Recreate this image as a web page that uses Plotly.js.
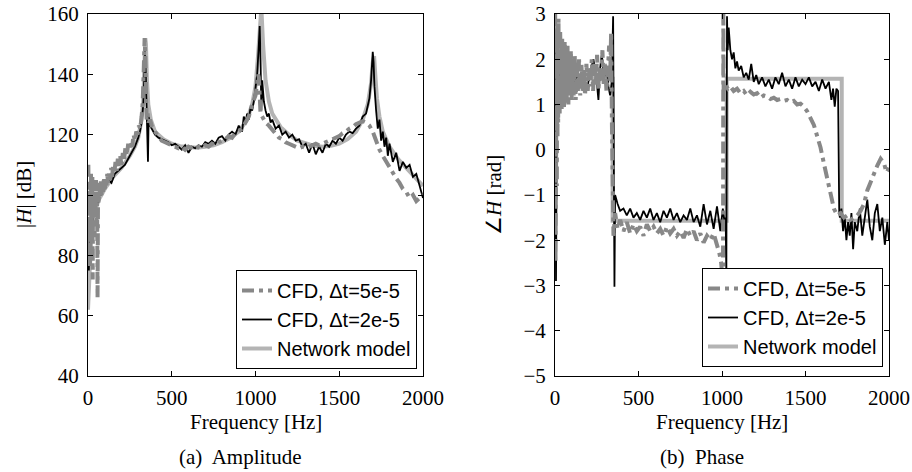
<!DOCTYPE html>
<html>
<head>
<meta charset="utf-8">
<script src="https://cdn.plot.ly/plotly-3.0.1.min.js"></script>
<style>
html,body{margin:0;padding:0;background:#fff;}
#chart{width:912px;height:472px;}
</style>
</head>
<body>
<div id="chart"></div>
<script>
// ---------- Amplitude (|H| in dB) ----------
const ampNetF = [0,10,20,40,60,80,100,150,200,250,280,300,320,330,338,342,346,352,360,375,400,450,500,550,600,650,700,750,800,850,900,950,980,1000,1015,1025,1030,1035,1045,1060,1080,1100,1150,1200,1250,1300,1350,1400,1450,1500,1550,1600,1640,1670,1690,1700,1708,1715,1725,1740,1760,1800,1850,1900,1950,2000];
const ampNetV = [62,80,88,94,98,100,102,106,109,113,116,119,125,131,142,152,150,138,130,125,121,118.5,117,116.2,115.8,115.7,116,116.5,117.5,119,121,125,130,136,146,158,162,162,150,138,131,127,122.5,120,118,117,116.3,116,116.3,117,118.5,121,125,130,137,144,146,140,132,126,121,116,112,109,106,103];

const ampC2F = [5,10,15,20,25,30,40,50,60,70,80,90,100,120,140,160,180,200,220,240,260,280,300,310,320,330,335,340,345,350,355,358,362,366,370,380,390,400,420,440,460,480,500,520,540,560,580,600,620,640,660,680,700,720,740,760,780,800,820,840,860,880,900,920,930,940,950,960,970,980,990,1000,1010,1020,1025,1030,1035,1040,1045,1050,1060,1070,1080,1090,1100,1120,1140,1160,1180,1200,1220,1240,1260,1280,1300,1320,1340,1360,1380,1400,1420,1440,1460,1480,1500,1520,1540,1560,1580,1600,1620,1640,1660,1680,1690,1695,1700,1705,1710,1720,1730,1740,1750,1760,1770,1780,1790,1800,1820,1840,1860,1880,1900,1920,1940,1960,1980,2000];
const ampC2V = [75,88,80,92,85,96,94,98,97,101,100,103,102,105,104,107,108,109,110,112,114,116,119,121,124,130,138,148,140,127,118,111,126,124,123,122,121,120,119,118.5,118,117.5,116.5,117,116,115,116.5,114,116,115.5,116.5,116,117.5,117,118,117,119,119.5,118,120,121,120,123,121,126,124,127,125,129,128,131,135,140,150,156,145,128,138,134,131,128,126,127,124,125,122,123,120,121,119,120,118,118.5,116,117,114,117,113.5,116,114,117,116,118,117,119,118,120,121,120.5,122,123,126,127,132,138,142,147.5,144,136,128,122,125,118,121,116,119,113,117,111,114,108,111,109,110,106,107,103,99];

const ampC5F = [2,4,6,8,10,12,14,16,18,20,22,24,26,28,30,33,36,39,42,45,48,51,54,57,60,64,68,72,76,80,85,90,95,100,105,110,115,120,126,132,138,144,150,157,164,171,178,185,192,200,208,216,224,232,240,248,256,264,272,280,288,296,304,312,320,326,332,338,342,346,350,356,362,370,380,400,420,440,460,480,500,520,540,560,580,600,620,640,660,680,700,720,740,760,780,800,820,840,860,880,900,920,940,960,980,1000,1010,1015,1020,1025,1030,1040,1050,1060,1080,1100,1120,1140,1160,1180,1200,1220,1240,1260,1280,1300,1320,1340,1360,1380,1400,1420,1440,1460,1480,1500,1520,1540,1560,1580,1600,1620,1640,1660,1680,1700,1720,1740,1760,1780,1800,1820,1840,1860,1880,1900,1920,1940,1960,1980,2000];
const ampC5V = [110,92,106,80,104,76,101,90,107,84,103,94,106,72,100,95,104,86,102,98,105,90,103,66,101,97,104,99,105,100,104,101,106,102,105,103,107,104,108,105,109,106,110,107,111,108,112,109,113,110,114,112,116,113,117,115,118,116,120,118,121,120,123,122,126,130,140,152,146,130,125,127,124,125,123,121,119.5,118,117.5,117,116.5,116,115.5,116,115,116,115.5,115,116,115.5,116.5,116,117,116.5,117.5,118,118.5,119.5,119,120.5,121,122,124,126,130,133,137,140,139,133,127,126,125,124,123,121.5,120,119,118.5,117.5,117,116.5,116,115.5,116,115.5,116,116.5,117,116.5,117,117.5,118,118.5,119,119.5,120.5,121,122,122.5,123.5,124,124.5,124,123,121,118,115,113,111,109,107,105.5,104,102,101,99,100,98,99,100];

// ---------- Phase (angle H in rad) ----------
const phNetF = [0,345,345,1028,1028,1717,1717,2000];
const phNetV = [1.57,1.57,-1.57,-1.57,1.57,1.57,-1.57,-1.57];

const phC2F = [2,4,6,8,10,14,18,24,30,40,50,60,70,80,90,100,115,130,150,170,190,210,230,250,260,270,280,295,310,320,330,340,348,352,356,360,366,375,390,410,430,450,470,490,510,530,550,570,590,610,630,650,670,690,710,730,750,770,790,810,830,850,870,890,910,930,950,970,990,1005,1015,1022,1026,1030,1034,1040,1050,1060,1070,1080,1090,1100,1115,1130,1145,1160,1175,1190,1205,1220,1240,1260,1280,1300,1320,1340,1360,1380,1400,1420,1440,1460,1480,1500,1520,1540,1560,1580,1600,1620,1640,1655,1665,1675,1685,1695,1702,1706,1715,1725,1735,1745,1755,1765,1775,1785,1795,1810,1825,1840,1855,1870,1885,1900,1915,1930,1945,1960,1975,1990,2000];
const phC2V = [2.6,-1.0,-2.9,-1.5,0.5,1.8,1.2,2.0,1.5,1.9,1.3,1.7,1.4,1.8,1.5,1.6,1.4,1.7,1.5,1.6,1.3,1.7,2.0,1.5,1.1,1.8,2.1,1.6,1.8,1.4,1.2,1.5,2.95,1.0,-3.03,-1.0,-1.1,-1.2,-1.35,-1.3,-1.45,-1.3,-1.5,-1.4,-1.55,-1.35,-1.5,-1.3,-1.55,-1.4,-1.6,-1.35,-1.5,-1.3,-1.55,-1.4,-1.6,-1.45,-1.55,-1.3,-1.6,-1.45,-1.7,-1.2,-1.65,-1.35,-1.75,-1.25,-1.8,-1.3,-1.6,-1.5,-2.8,2.95,2.2,2.7,2.2,2.0,2.15,1.8,1.95,1.75,1.85,1.6,1.7,1.55,1.9,1.5,1.65,1.45,1.6,1.4,1.55,1.35,1.6,1.45,1.7,1.4,1.55,1.35,1.6,1.4,1.55,1.45,1.6,1.4,1.5,1.3,1.55,1.35,1.5,1.1,1.35,0.95,1.35,1.3,-1.4,-1.5,-1.3,-1.8,-1.5,-2.0,-1.6,-1.9,-1.4,-2.2,-1.6,-1.8,-1.3,-1.9,-1.5,-1.1,-1.7,-2.0,-1.4,-1.2,-1.8,-1.5,-2.1,-1.6,-2.0];

const phC5F = [1,3,5,7,9,11,13,15,17,19,21,23,25,28,31,34,37,40,43,46,50,54,58,62,66,70,75,80,85,90,95,100,106,112,118,124,130,137,144,151,158,165,172,180,188,196,204,212,220,228,236,244,252,260,268,276,284,292,300,308,316,324,330,336,341,345,350,360,375,390,410,430,450,470,490,510,530,550,570,590,610,630,650,670,690,710,730,750,770,790,810,830,850,870,890,910,930,950,970,985,995,1002,1006,1008,1010,1020,1035,1050,1070,1090,1110,1130,1150,1170,1190,1210,1230,1250,1270,1290,1310,1330,1350,1370,1390,1410,1430,1450,1470,1490,1510,1530,1550,1570,1590,1610,1630,1650,1670,1690,1710,1730,1750,1770,1790,1810,1830,1850,1870,1890,1910,1930,1950,1970,1985,2000];
const phC5V = [3.0,-2.5,2.9,0.0,2.7,-0.8,2.8,0.3,2.6,0.6,2.9,0.9,2.5,0.8,2.6,1.0,2.4,0.9,2.5,1.1,2.3,0.9,2.4,1.0,2.2,1.1,2.3,1.0,2.1,1.2,2.2,1.1,2.0,1.2,2.1,1.1,1.9,1.3,2.0,1.2,1.9,1.3,1.8,1.2,1.9,1.3,1.8,1.4,2.0,1.3,1.9,1.4,2.1,1.3,1.8,1.5,2.2,1.4,1.9,1.3,1.7,2.3,1.5,2.6,0.5,-1.5,-1.9,-1.4,-1.75,-1.55,-1.8,-1.6,-1.85,-1.65,-1.8,-1.7,-1.9,-1.65,-1.8,-1.7,-1.85,-1.75,-1.9,-1.7,-1.85,-1.75,-1.9,-1.8,-1.95,-1.75,-1.9,-1.8,-2.0,-1.85,-2.05,-1.9,-2.0,-1.85,-2.1,-2.3,-2.5,-2.8,-3.0,3.0,1.3,1.45,1.35,1.4,1.3,1.35,1.25,1.3,1.2,1.28,1.22,1.25,1.15,1.2,1.18,1.12,1.15,1.1,1.12,1.08,1.1,1.05,1.08,1.0,1.02,0.95,0.85,0.7,0.55,0.3,0.05,-0.3,-0.65,-1.0,-1.3,-1.45,-1.4,-1.5,-1.45,-1.55,-1.5,-1.45,-1.35,-1.2,-0.9,-0.7,-0.5,-0.35,-0.2,-0.3,-0.5,-0.4];

const seriesNames = ['CFD, \u0394t=5e-5', 'CFD, \u0394t=2e-5', 'Network model'];
const xTicks = [0,500,1000,1500,2000];
const ampTicks = [40,60,80,100,120,140,160];
const phTicks = [-5,-4,-3,-2,-1,0,1,2,3];

const NET_COL = '#b4b4b4', C5_COL = '#888888', C2_COL = '#000000';

function mk(x, y, name, kind, xa, ya, leg) {
  const st = {
    net: {color: NET_COL, width: 4, dash: 'solid', rank: 3},
    c5: {color: C5_COL, width: 4, dash: '12px,5px,4px,5px', rank: 1},
    c2: {color: C2_COL, width: 1.8, dash: 'solid', rank: 2}
  }[kind];
  return {x, y, name, type: 'scatter', mode: 'lines', xaxis: xa, yaxis: ya,
    line: {color: st.color, width: st.width, dash: st.dash},
    legend: leg, legendrank: st.rank, showlegend: true, hoverinfo: 'skip'};
}

const data = [
  mk(ampNetF, ampNetV, seriesNames[2], 'net', 'x', 'y', 'legend'),
  mk(ampC2F, ampC2V, seriesNames[1], 'c2', 'x', 'y', 'legend'),
  mk(ampC5F, ampC5V, seriesNames[0], 'c5', 'x', 'y', 'legend'),
  mk(phNetF, phNetV, seriesNames[2], 'net', 'x2', 'y2', 'legend2'),
  mk(phC2F, phC2V, seriesNames[1], 'c2', 'x2', 'y2', 'legend2'),
  mk(phC5F, phC5V, seriesNames[0], 'c5', 'x2', 'y2', 'legend2')
];

const serif = 'Liberation Serif, Times New Roman, serif';
const sans = 'Liberation Sans, Arial, sans-serif';
const axBase = {
  showgrid: false, zeroline: false, showline: true, linecolor: '#000', linewidth: 1,
  mirror: 'allticks', ticks: 'inside', ticklen: 5, tickcolor: '#000', tickwidth: 1,
  tickfont: {family: serif, size: 21, color: '#000'}, fixedrange: true
};
const yDom = [96/472, 458/472];
const legBase = {
  bgcolor: '#fff', bordercolor: '#000', borderwidth: 1,
  font: {family: sans, size: 20, color: '#000'}, xanchor: 'right', yanchor: 'bottom',
  tracegroupgap: 0
};
const tf = {family: serif, size: 21, color: '#000'};

const layout = {
  width: 912, height: 472,
  margin: {l: 0, r: 0, t: 0, b: 0},
  paper_bgcolor: '#fff', plot_bgcolor: '#fff',
  showlegend: true,
  xaxis: Object.assign({}, axBase, {domain: [88/912, 423/912], range: [0, 2000], tickvals: xTicks, anchor: 'y', ticklabelstandoff: 3}),
  yaxis: Object.assign({}, axBase, {domain: yDom, range: [40, 160], tickvals: ampTicks, anchor: 'x', ticklabelstandoff: 4}),
  xaxis2: Object.assign({}, axBase, {domain: [555/912, 889/912], range: [0, 2000], tickvals: xTicks, anchor: 'y2', ticklabelstandoff: 3}),
  yaxis2: Object.assign({}, axBase, {domain: yDom, range: [-5, 3], tickvals: phTicks, anchor: 'x2', ticklabelstandoff: 4}),
  legend: Object.assign({}, legBase, {x: 417/912, y: (472-369)/472}),
  legend2: Object.assign({}, legBase, {x: 883/912, y: (472-367)/472}),
  annotations: [
    {text: 'Frequency [Hz]', xref: 'paper', yref: 'paper', x: 255.5/912, y: (472-422)/472, xanchor: 'center', yanchor: 'middle', showarrow: false, font: tf},
    {text: 'Frequency [Hz]', xref: 'paper', yref: 'paper', x: 722/912, y: (472-422)/472, xanchor: 'center', yanchor: 'middle', showarrow: false, font: tf},
    {text: '|<i>H</i>| [dB]', xref: 'paper', yref: 'paper', x: 24/912, y: (472-195)/472, xanchor: 'center', yanchor: 'middle', textangle: -90, showarrow: false, font: tf},
    {text: '\u2220<i>H</i> [rad]', xref: 'paper', yref: 'paper', x: 494/912, y: (472-195)/472, xanchor: 'center', yanchor: 'middle', textangle: -90, showarrow: false, font: tf},
    {text: '(a)  Amplitude', xref: 'paper', yref: 'paper', x: 240/912, y: (472-457)/472, xanchor: 'center', yanchor: 'middle', showarrow: false, font: tf},
    {text: '(b)  Phase', xref: 'paper', yref: 'paper', x: 702/912, y: (472-457)/472, xanchor: 'center', yanchor: 'middle', showarrow: false, font: tf}
  ]
};

Plotly.newPlot('chart', data, layout, {displayModeBar: false, staticPlot: true});
</script>
</body>
</html>
